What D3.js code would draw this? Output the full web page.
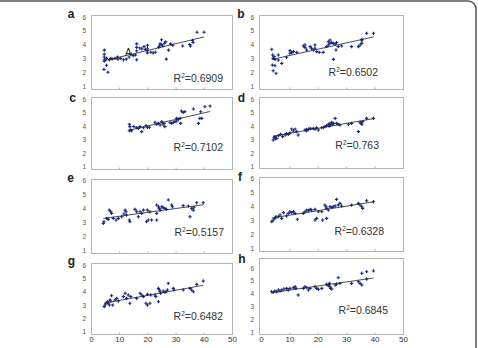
<!DOCTYPE html>
<html>
<head>
<meta charset="utf-8">
<script src="https://cdn.jsdelivr.net/npm/d3@7/dist/d3.min.js"></script>
<style>
    body { margin: 0; background: #fff; }
    svg { display: block; font-family: "Liberation Sans", Arial, sans-serif; }
    .frame { fill: none; stroke: #b4b4b4; stroke-width: 1; }
    .y-axis text { font-size: 6.5px; fill: #555; }
    .x-axis text { font-size: 8px; fill: #333; }
    .x-axis line { stroke: #b4b4b4; }
    .panel-letter { font-size: 12px; font-weight: bold; fill: #222; }
    .r2 { font-size: 10.5px; fill: #333; }
</style>
</head>
<body>
<div id="chart"></div>
<script>

// values, [x, y]
var panelA = [[4.7,3.6],[4.7,3.3],[4.7,3.1],[4.8,2.9],[4.7,2.8],[4.6,2.2],[5.5,2.5],[6.0,2.0],[5.5,3.0],[6.5,2.9],[7.0,3.0],[7.5,2.95],[8.5,3.0],[9.4,3.1],[9.5,2.95],[10.5,3.0],[11.5,2.9],[12.5,2.95],[13.5,3.1],[14.2,3.3],[15.0,3.2],[15.8,3.25],[16.2,4.05],[16.2,3.8],[16.2,3.55],[16.2,2.9],[17.3,3.75],[18.0,3.7],[18.8,3.85],[19.2,3.65],[20.0,3.95],[20.0,3.7],[20.0,3.55],[20.0,3.4],[21.2,3.45],[22.0,3.4],[22.8,3.45],[24.0,3.8],[24.3,3.9],[24.5,4.05],[25.0,4.35],[25.0,4.0],[25.5,3.9],[26.0,4.1],[26.5,4.2],[26.7,2.95],[27.5,3.6],[28.2,4.05],[29.0,3.95],[32.5,3.9],[35.0,4.0],[35.3,3.9],[36.0,4.3],[36.2,4.15],[37.6,4.9],[40.1,4.9]];
var panelB = [[3.8,3.66],[4.1,3.25],[4.6,3.13],[4.3,3.0],[6.1,3.25],[4.9,2.93],[6.1,2.88],[4.0,2.52],[4.9,2.47],[7.3,2.64],[4.3,2.1],[5.3,1.92],[9.0,3.08],[10.2,3.56],[10.8,3.42],[11.4,3.49],[10.2,3.37],[12.6,3.44],[14.9,3.9],[15.5,3.78],[16.1,3.61],[15.5,3.97],[17.3,3.85],[17.8,3.73],[18.4,3.61],[19.0,3.97],[19.0,3.73],[19.6,3.49],[20.5,3.44],[21.9,3.44],[23.1,3.85],[23.7,3.97],[24.3,4.09],[24.3,4.33],[23.7,4.21],[24.9,4.14],[25.5,4.09],[26.1,4.04],[26.6,4.14],[27.2,3.85],[25.5,2.93],[26.4,3.61],[28.4,3.9],[31.9,3.85],[34.3,3.85],[34.9,3.97],[35.5,4.09],[35.5,4.28],[35.5,4.38],[37.2,4.82],[39.6,4.82]];
var panelC = [[13.6,4.13],[13.8,3.96],[13.6,3.66],[14.4,3.66],[14.1,3.71],[15.2,3.96],[16.2,3.88],[16.8,3.83],[17.4,3.96],[18.0,3.59],[18.6,3.88],[19.5,4.03],[20.0,3.91],[20.7,3.91],[22.7,4.28],[23.3,4.13],[23.9,4.2],[24.5,4.08],[25.1,4.33],[25.6,4.13],[26.2,3.96],[25.9,4.2],[28.0,4.25],[28.6,4.2],[29.2,4.28],[29.8,4.33],[30.4,4.37],[30.4,4.57],[31.0,4.5],[31.6,4.57],[31.8,4.2],[32.1,5.11],[32.7,5.01],[33.3,5.06],[36.3,5.26],[38.1,4.2],[38.6,4.57],[39.3,4.57],[38.9,5.06],[40.4,5.43],[42.2,5.48]];
var panelD = [[4.3,2.97],[4.6,3.14],[4.9,3.22],[5.0,3.05],[5.5,3.09],[6.1,3.29],[6.9,3.39],[7.6,3.22],[8.5,3.34],[9.0,3.45],[9.6,3.39],[10.2,3.5],[10.8,3.78],[11.4,3.64],[12.0,3.78],[12.6,3.59],[13.1,3.34],[15.5,3.71],[16.0,3.75],[16.1,3.64],[16.7,3.78],[17.3,3.83],[18.4,3.83],[19.0,3.78],[19.6,3.88],[20.2,3.71],[21.4,3.88],[22.0,3.9],[22.5,3.96],[23.1,4.03],[23.7,4.13],[24.0,4.0],[24.3,4.2],[24.5,4.08],[24.9,4.28],[25.2,4.13],[25.5,4.2],[26.1,4.57],[26.6,4.2],[27.2,4.13],[27.8,4.08],[30.8,4.13],[31.9,4.2],[34.3,3.59],[34.9,4.28],[35.2,4.2],[35.5,4.13],[35.8,4.33],[37.2,4.57],[39.6,4.57]];
var panelE = [[4.4,2.92],[4.6,3.04],[5.6,3.28],[6.1,3.21],[6.5,3.88],[7.0,3.76],[7.3,3.64],[7.9,3.28],[8.9,3.16],[9.7,3.28],[10.9,3.4],[11.7,3.6],[12.1,3.88],[12.4,3.76],[12.6,3.52],[13.6,3.16],[13.8,3.04],[15.6,3.93],[16.2,3.76],[16.8,3.4],[17.4,3.76],[18.0,3.64],[18.6,3.88],[19.7,3.04],[20.3,3.16],[20.0,3.88],[20.9,3.76],[21.5,3.16],[23.3,3.16],[23.3,3.64],[23.3,4.25],[23.9,4.12],[24.2,4.0],[24.5,3.88],[25.1,4.12],[25.6,4.05],[26.2,4.0],[26.8,3.93],[27.4,4.61],[28.6,4.25],[28.9,4.12],[32.7,4.2],[34.5,4.17],[35.1,3.4],[35.7,4.0],[36.3,3.88],[36.5,4.08],[37.5,4.41],[39.8,4.41]];
var panelF = [[3.8,2.9],[4.3,3.02],[4.9,3.14],[5.3,3.26],[6.1,3.26],[6.7,3.38],[7.3,3.14],[7.9,3.55],[9.0,3.31],[9.6,3.5],[10.2,3.62],[10.8,3.55],[11.4,3.62],[12.0,3.5],[12.8,3.07],[14.9,3.5],[15.5,3.62],[16.1,3.74],[16.7,3.69],[17.3,3.79],[17.8,3.74],[19.0,3.02],[19.6,3.14],[19.0,3.79],[20.2,3.62],[21.4,3.62],[21.7,3.02],[22.5,4.1],[22.9,3.98],[23.1,3.86],[23.7,3.74],[23.1,3.14],[24.3,3.98],[24.9,3.93],[25.5,3.98],[26.1,4.03],[26.6,4.51],[27.2,4.1],[27.8,4.22],[28.4,4.03],[31.9,4.1],[34.3,4.22],[34.9,4.1],[35.5,3.98],[35.8,3.86],[37.2,4.41],[39.6,4.34]];
var panelG = [[4.7,2.88],[4.96,3.0],[5.3,3.13],[5.8,3.25],[6.1,3.13],[6.5,3.0],[6.7,3.38],[7.0,3.3],[7.3,3.7],[7.7,3.0],[8.5,3.38],[9.1,3.5],[9.7,3.3],[11.5,3.63],[12.1,3.88],[12.6,3.5],[13.2,3.75],[13.8,3.13],[14.1,3.63],[16.2,3.5],[17.4,3.88],[18.0,3.75],[18.6,3.63],[19.5,3.13],[20.0,3.0],[20.0,3.8],[20.9,3.13],[21.2,3.75],[22.7,3.75],[23.0,3.63],[23.9,3.25],[23.9,4.25],[24.2,4.13],[24.5,4.0],[24.7,3.88],[25.6,4.05],[26.2,3.95],[26.6,4.0],[27.1,4.13],[27.4,4.63],[29.2,4.25],[29.4,4.13],[32.7,4.13],[35.1,4.25],[35.7,4.13],[36.3,4.0],[37.5,4.55],[39.8,4.8]];
var panelH = [[3.7,4.15],[4.3,4.1],[4.9,4.2],[5.5,4.15],[6.1,4.28],[6.7,4.2],[7.3,4.28],[8.1,4.36],[9.0,4.41],[9.6,4.28],[10.2,4.41],[11.4,4.46],[12.0,4.54],[12.3,4.41],[13.1,3.89],[14.9,4.41],[15.5,4.54],[16.1,4.46],[16.7,4.28],[17.3,4.41],[19.0,4.54],[19.6,4.41],[20.2,4.34],[21.4,4.41],[23.1,4.73],[23.7,4.62],[24.1,4.8],[24.3,4.54],[24.5,4.41],[24.9,4.36],[26.1,4.67],[26.6,4.73],[27.2,5.24],[27.8,4.8],[31.9,4.8],[34.3,4.93],[34.9,4.8],[35.5,4.67],[35.5,5.59],[37.2,5.14],[37.2,5.71],[39.6,5.77]];

var panelLetters = ["a", "b", "c", "d", "e", "f", "g", "h"];
var r2Values = ["0.6909", "0.6502", "0.7102", "0.763", "0.5157", "0.6328", "0.6482", "0.6845"];
var xTicks = [0, 10, 20, 30, 40, 50];
var yTicks = [1, 2, 3, 4, 5, 6];

var panelData = [panelA, panelB, panelC, panelD, panelE, panelF, panelG, panelH];

// pixel layout of each small plot
var layout = [
    {x0: 91,  x50: 232, left: 91,  top: 15,  bottom: 89,  y6: 17,    y1: 86,    r2x: 223, r2y: 81.5,  lx: 71,    ly: 17.5},
    {x0: 261, x50: 403, left: 259, top: 15,  bottom: 89,  y6: 17,    y1: 86,    r2x: 378, r2y: 76,    lx: 241,   ly: 17.5},
    {x0: 91,  x50: 232, left: 91,  top: 97,  bottom: 169, y6: 99,    y1: 166.7, r2x: 223, r2y: 151,   lx: 72.5,  ly: 102.3},
    {x0: 261, x50: 403, left: 259, top: 97,  bottom: 168, y6: 99,    y1: 166.7, r2x: 379, r2y: 149.3, lx: 241.5, ly: 102.3},
    {x0: 91,  x50: 232, left: 91,  top: 179, bottom: 253, y6: 180.7, y1: 250,   r2x: 224, r2y: 236,   lx: 70.5,  ly: 181.7},
    {x0: 261, x50: 403, left: 259, top: 177, bottom: 251, y6: 178.7, y1: 248,   r2x: 384, r2y: 235,   lx: 240,   ly: 181},
    {x0: 91,  x50: 232, left: 91,  top: 263, bottom: 334, y6: 265,   y1: 331.7, r2x: 223, r2y: 320,   lx: 71.5,  ly: 265},
    {x0: 261, x50: 403, left: 259, top: 258, bottom: 334, y6: 268,   y1: 332,   r2x: 388, r2y: 314.3, lx: 242,   ly: 263.3}
];

var svg = d3.select("#chart").append("svg")
    .attr("width", 478)
    .attr("height", 348);

// outer figure border
svg.append("path")
    .attr("d", "M0,1H468A8,8 0 0 1 476,9V348")
    .attr("fill", "none")
    .attr("stroke", "#555")
    .attr("stroke-width", 1.5);

var marker = d3.symbol().type(d3.symbolCross).size(6);

panelData.forEach(function(data, i) {
    var L = layout[i];
    var x = d3.scaleLinear().domain([0, 50]).range([L.x0, L.x50]);
    var y = d3.scaleLinear().domain([1, 6]).range([L.y1, L.y6]);
    var g = svg.append("g").attr("class", "panel");

    g.append("rect")
        .attr("class", "frame")
        .attr("x", L.left + 0.5)
        .attr("y", L.top + 0.5)
        .attr("width", L.x50 - L.left)
        .attr("height", L.bottom - L.top);

    // y axis labels
    var yAxis = g.append("g")
        .attr("class", "y-axis")
        .attr("transform", "translate(" + L.left + ",0)")
        .call(d3.axisLeft(y).tickValues(yTicks).tickFormat(d3.format("d")).tickSize(0).tickPadding(5));
    yAxis.select(".domain").remove();

    // small inward ticks on the bottom, labels only on the last row
    var xAxis = g.append("g")
        .attr("class", "x-axis")
        .attr("transform", "translate(0," + (L.bottom + 0.5) + ")")
        .call(d3.axisBottom(x).tickValues(xTicks.slice(1, 5)).tickSizeInner(-2).tickSizeOuter(0));
    xAxis.select(".domain").remove();
    xAxis.selectAll("text").remove();
    if (i >= 6) {
        var labelAxis = g.append("g")
            .attr("class", "x-axis")
            .attr("transform", "translate(0," + (L.bottom + 0.5) + ")")
            .call(d3.axisBottom(x).tickValues(xTicks).tickFormat(d3.format("d")).tickSize(0).tickPadding(2));
        labelAxis.select(".domain").remove();
    }

    // least squares trendline over the data range
    var mx = d3.mean(data, function(d) { return d[0]; });
    var my = d3.mean(data, function(d) { return d[1]; });
    var sxy = d3.sum(data, function(d) { return (d[0] - mx) * (d[1] - my); });
    var sxx = d3.sum(data, function(d) { return (d[0] - mx) * (d[0] - mx); });
    var slope = sxy / sxx;
    var ext = d3.extent(data, function(d) { return d[0]; });

    g.selectAll(".pt")
        .data(data)
        .enter()
        .append("path")
        .attr("class", "pt")
        .attr("d", marker)
        .attr("fill", "#1b2a80")
        .attr("transform", function(d) { return "translate(" + x(d[0]) + "," + y(d[1]) + ")"; });

    g.append("line")
        .attr("x1", x(ext[0]))
        .attr("y1", y(my + slope * (ext[0] - mx)))
        .attr("x2", x(ext[1]))
        .attr("y2", y(my + slope * (ext[1] - mx)))
        .attr("stroke", "#222")
        .attr("stroke-width", 0.8);

    var r2 = g.append("text")
        .attr("class", "r2")
        .attr("x", L.r2x)
        .attr("y", L.r2y)
        .attr("text-anchor", "end");
    r2.append("tspan").text("R");
    r2.append("tspan").attr("font-size", "6.5px").attr("dy", -4).text("2");
    r2.append("tspan").attr("dy", 4).text("=" + r2Values[i]);

    svg.append("text")
        .attr("class", "panel-letter")
        .attr("x", L.lx)
        .attr("y", L.ly)
        .attr("text-anchor", "middle")
        .text(panelLetters[i]);
});

// marker label in panel a
svg.append("text")
    .attr("x", 128.3)
    .attr("y", 56)
    .attr("text-anchor", "middle")
    .attr("font-size", "10px")
    .attr("fill", "#222")
    .text("A");

</script>
</body>
</html>
